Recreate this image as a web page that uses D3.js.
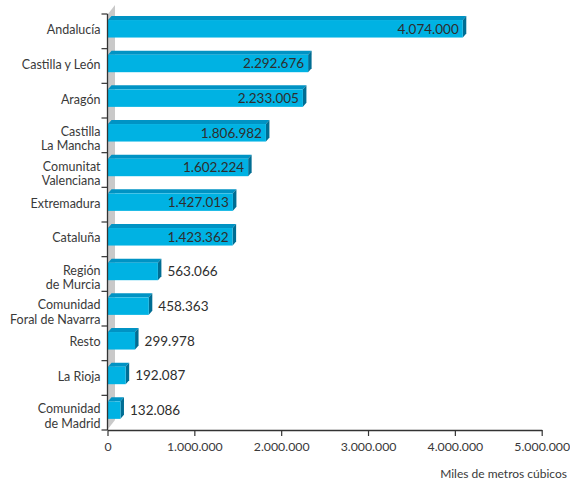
<!DOCTYPE html>
<html>
<head>
<meta charset="utf-8">
<script src="https://cdn.jsdelivr.net/npm/d3@7"></script>
<style>
  html, body { margin: 0; padding: 0; background: #ffffff; }
  svg { display: block; }
  text { font-family: Lato, "Noto Sans", sans-serif; fill: #3a3a3a; }
</style>
</head>
<body>
<svg id="chart" width="570" height="483"></svg>
<script>
// ---- data ----
const categories = [
  ["Andalucía"],
  ["Castilla y León"],
  ["Aragón"],
  ["Castilla", "La Mancha"],
  ["Comunitat", "Valenciana"],
  ["Extremadura"],
  ["Cataluña"],
  ["Región", "de Murcia"],
  ["Comunidad", "Foral de Navarra"],
  ["Resto"],
  ["La Rioja"],
  ["Comunidad", "de Madrid"]
];
const values = [4074000, 2292676, 2233005, 1806982, 1602224, 1427013, 1423362, 563066, 458363, 299978, 192087, 132086];
const valueLabels = ["4.074.000", "2.292.676", "2.233.005", "1.806.982", "1.602.224", "1.427.013", "1.423.362", "563.066", "458.363", "299.978", "192.087", "132.086"];
const tickValues = [0, 1000000, 2000000, 3000000, 4000000, 5000000];
const tickLabels = ["0", "1.000.000", "2.000.000", "3.000.000", "4.000.000", "5.000.000"];
const axisTitle = "Miles de metros cúbicos";

(function () {
// ---- layout ----
const svg = d3.select("#chart");
const mLeft = 107.5, mRight = 541.7, mTop = 14, mBottom = 430;
const keys = categories.map((c, i) => i);
const x = d3.scaleLinear().domain([0, 5000000]).range([mLeft, mRight]);
const y = d3.scaleBand().domain(keys).range([mTop, mBottom]);

const colFront = "#00b2e3", colTop = "#0093c4", colSide = "#006d93", colWall = "#c9c9c9";
const dx = 3.5, dy = 4;

// back wall (3D)
svg.append("polygon")
  .attr("points", [[mLeft + 0.5, mTop], [mLeft + 7.5, mTop - 9], [mLeft + 7.5, mBottom - 10], [mLeft + 0.5, mBottom - 1]].map(p => p.join(",")).join(" "))
  .attr("fill", colWall);

// bars
const g = svg.append("g");
keys.forEach(i => {
  const c = y(i) + y.bandwidth() / 2;
  const yt = c - 11.3, yb = c + 6.2;
  const x0 = mLeft + 0.5;
  const xe = x(values[i]) + 1.5;
  g.append("polygon")
    .attr("points", [[x0, yt], [x0 + dx, yt - dy], [xe + dx, yt - dy], [xe, yt]].map(p => p.join(",")).join(" "))
    .attr("fill", colTop);
  g.append("polygon")
    .attr("points", [[xe, yt], [xe + dx, yt - dy], [xe + dx, yb - dy], [xe, yb]].map(p => p.join(",")).join(" "))
    .attr("fill", colSide);
  g.append("rect")
    .attr("x", x0).attr("y", yt).attr("width", xe - x0).attr("height", yb - yt)
    .attr("fill", colFront);
  const inside = values[i] >= 1000000;
  g.append("text")
    .attr("x", inside ? xe - 4 : xe + dx + 6)
    .attr("y", (yt + yb) / 2)
    .attr("dy", "0.36em")
    .attr("text-anchor", inside ? "end" : "start")
    .attr("font-size", 13.5)
    .style("fill", "#2e2e2e")
    .text(valueLabels[i]);
});

// y axis (ticks at band boundaries)
const yAxis = svg.append("g");
yAxis.append("line").attr("x1", mLeft).attr("x2", mLeft).attr("y1", mTop).attr("y2", mBottom)
  .attr("stroke", "#333").attr("stroke-width", 1.3);
const boundaries = keys.map(i => y(i)).concat([mBottom]);
yAxis.selectAll("line.tk").data(boundaries).join("line").attr("class", "tk")
  .attr("x1", mLeft - 6).attr("x2", mLeft).attr("y1", d => d).attr("y2", d => d)
  .attr("stroke", "#333").attr("stroke-width", 1.2);

// category labels
keys.forEach(i => {
  const c = y(i) + y.bandwidth() / 2;
  const lines = categories[i];
  const t = svg.append("text").attr("text-anchor", "end").attr("font-size", 12.5);
  if (lines.length === 1) {
    t.append("tspan").attr("x", 100.5).attr("y", c - 1.5).attr("dy", "0.36em").text(lines[0]);
  } else {
    t.append("tspan").attr("x", 100.5).attr("y", c - 4).attr("dy", "0.36em").text(lines[0]);
    t.append("tspan").attr("x", 100.5).attr("y", c + 10.5).attr("dy", "0.36em").text(lines[1]);
  }
});

// x axis
const xAxis = svg.append("g").attr("transform", `translate(0,${mBottom})`)
  .call(d3.axisBottom(x).tickValues(tickValues).tickFormat((d, i) => tickLabels[i]).tickSize(6).tickSizeOuter(0).tickPadding(6));
xAxis.select(".domain").attr("stroke", "#333").attr("stroke-width", 1.3);
xAxis.selectAll(".tick line").attr("stroke", "#333").attr("stroke-width", 1.2);
xAxis.selectAll(".tick text").attr("font-size", 12.3).attr("font-family", "Lato, 'Noto Sans', sans-serif").style("fill", "#3a3a3a");

svg.append("text")
  .attr("x", 567).attr("y", 474).attr("dy", "0.36em")
  .attr("text-anchor", "end").attr("font-size", 12)
  .text(axisTitle);
})();
</script>
</body>
</html>
